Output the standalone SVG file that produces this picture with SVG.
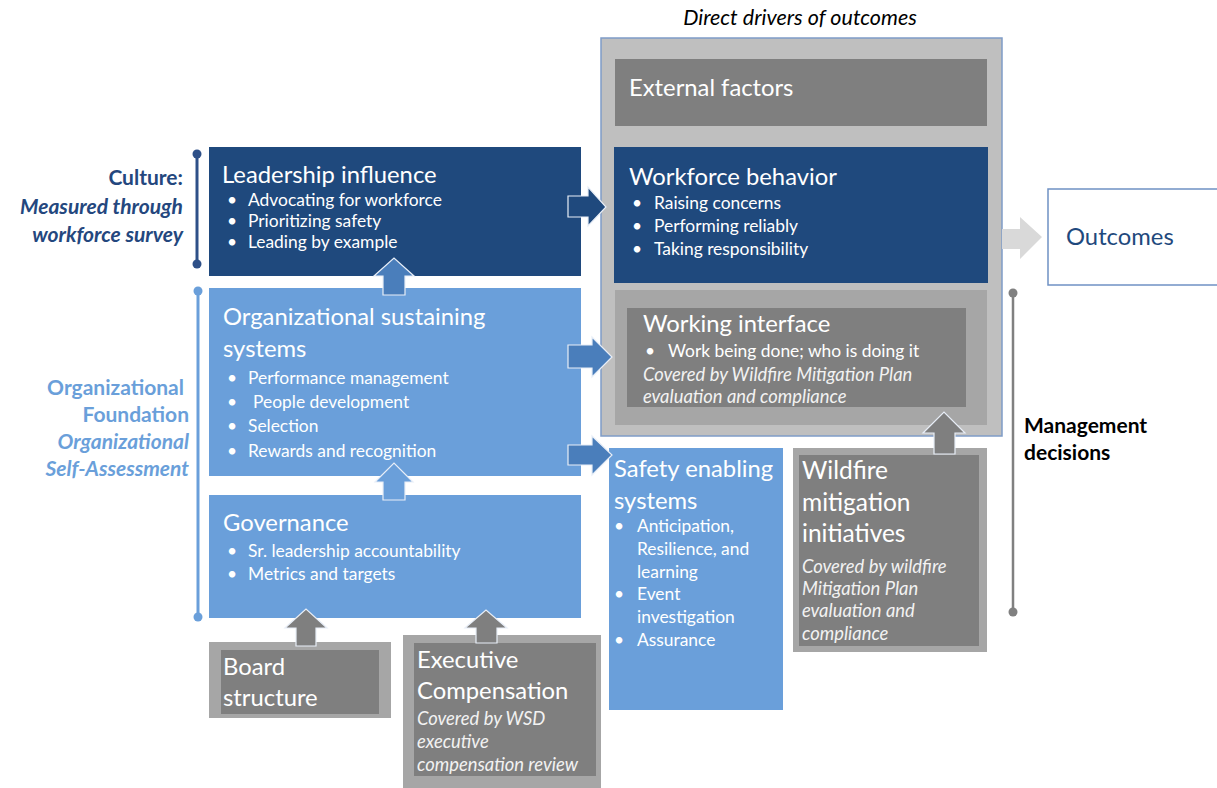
<svg xmlns="http://www.w3.org/2000/svg" width="1217" height="788" viewBox="0 0 1217 788">
<style>
text{font-family:Lato,"Liberation Sans",sans-serif;}
.t{font-size:23.8px;fill:#ffffff;}
.b{font-size:17.4px;fill:#ffffff;}
.i{font-size:18.4px;fill:#f2f2f2;font-style:italic;}
.navy{fill:#1f497d;}
.lb{fill:#6a9fda;}
.g1{fill:#7f7f7f;}
.g2{fill:#a6a6a6;}
.lbl{font-size:21px;font-weight:bold;}
</style>
<rect width="1217" height="788" fill="#ffffff"/>
<text x="800" y="25" text-anchor="middle" style="font-size:21.5px;font-style:italic;fill:#000">Direct drivers of outcomes</text>

<g id="culture-label">
<text x="183" y="185" text-anchor="end" class="lbl" fill="#24477e">Culture:</text>
<text x="183" y="214" text-anchor="end" class="lbl" fill="#24477e" font-style="italic">Measured through</text>
<text x="183" y="242" text-anchor="end" class="lbl" fill="#24477e" font-style="italic">workforce survey</text>
<line x1="197" y1="154" x2="197" y2="264" stroke="#2e5088" stroke-width="3"/>
<circle cx="197" cy="154" r="4.5" fill="#2e5088"/>
<circle cx="197" cy="264" r="4.5" fill="#2e5088"/>
</g>

<g id="foundation-label">
<text x="184" y="395" text-anchor="end" class="lbl" fill="#6a9fda">Organizational</text>
<text x="189" y="422" text-anchor="end" class="lbl" fill="#6a9fda">Foundation</text>
<text x="189" y="449" text-anchor="end" class="lbl" fill="#6a9fda" font-style="italic">Organizational</text>
<text x="189" y="476" text-anchor="end" class="lbl" fill="#6a9fda" font-style="italic">Self-Assessment</text>
<line x1="198" y1="291" x2="198" y2="617" stroke="#6a9fda" stroke-width="3"/>
<circle cx="198" cy="291" r="4.5" fill="#6a9fda"/>
<circle cx="198" cy="617" r="4.5" fill="#6a9fda"/>
</g>

<g id="management-label">
<text x="1024" y="433" class="lbl" fill="#000">Management</text>
<text x="1024" y="460" class="lbl" fill="#000">decisions</text>
<line x1="1013" y1="293" x2="1013" y2="612" stroke="#808080" stroke-width="2.5"/>
<circle cx="1013" cy="293" r="4.5" fill="#808080"/>
<circle cx="1013" cy="612" r="4.5" fill="#808080"/>
</g>

<g id="direct-drivers">
<rect x="601" y="38" width="401" height="398" fill="#bfbfbf" stroke="#7f9cc7" stroke-width="1.5"/>
</g>

<g id="external-factors">
<rect x="615" y="59" width="372" height="67" class="g1"/>
<text x="629" y="96" class="t" fill="#f2f2f2">External factors</text>
</g>

<g id="workforce-behavior">
<rect x="614" y="147" width="374" height="136" class="navy"/>
<text x="629" y="185" class="t">Workforce behavior</text>
<text x="632" y="209" class="b">•</text><text x="654" y="209" class="b">Raising concerns</text>
<text x="632" y="232" class="b">•</text><text x="654" y="232" class="b">Performing reliably</text>
<text x="632" y="255" class="b">•</text><text x="654" y="255" class="b">Taking responsibility</text>
</g>

<g id="working-interface">
<rect x="615" y="290" width="372" height="135" class="g2"/>
<rect x="627" y="308" width="339" height="99" class="g1"/>
<text x="643" y="332" class="t" fill="#f2f2f2">Working interface</text>
<text x="645" y="357" class="b">•</text><text x="668" y="357" class="b">Work being done; who is doing it</text>
<text x="643" y="381" class="i">Covered by Wildfire Mitigation Plan</text>
<text x="643" y="403" class="i">evaluation and compliance</text>
</g>

<g id="outcomes">
<rect x="1048" y="189" width="175" height="96" fill="#ffffff" stroke="#6f91c4" stroke-width="1.5"/>
<text x="1066" y="245" style="font-size:23.8px;fill:#1f497d">Outcomes</text>
</g>

<g id="leadership-influence">
<rect x="209" y="147" width="372" height="129" class="navy"/>
<text x="222" y="183" class="t">Leadership influence</text>
<text x="227" y="206" class="b">•</text><text x="248" y="206" class="b">Advocating for workforce</text>
<text x="227" y="227" class="b">•</text><text x="248" y="227" class="b">Prioritizing safety</text>
<text x="227" y="248" class="b">•</text><text x="248" y="248" class="b">Leading by example</text>
</g>

<g id="org-sustaining">
<rect x="209" y="288" width="372" height="188" class="lb"/>
<text x="223" y="325" class="t">Organizational sustaining</text>
<text x="223" y="357" class="t">systems</text>
<text x="227" y="384" class="b">•</text><text x="248" y="384" class="b">Performance management</text>
<text x="227" y="408" class="b">•</text><text x="253" y="408" class="b">People development</text>
<text x="227" y="432" class="b">•</text><text x="248" y="432" class="b">Selection</text>
<text x="227" y="457" class="b">•</text><text x="248" y="457" class="b">Rewards and recognition</text>
</g>

<g id="governance">
<rect x="209" y="495" width="372" height="123" class="lb"/>
<text x="223" y="531" class="t">Governance</text>
<text x="227" y="557" class="b">•</text><text x="248" y="557" class="b">Sr. leadership accountability</text>
<text x="227" y="580" class="b">•</text><text x="248" y="580" class="b">Metrics and targets</text>
</g>

<g id="safety-enabling">
<rect x="609" y="448" width="174" height="262" class="lb"/>
<text x="614" y="477" class="t">Safety enabling</text>
<text x="614" y="509" class="t">systems</text>
<text x="614" y="532" class="b">•</text><text x="637" y="532" class="b">Anticipation,</text>
<text x="637" y="555" class="b">Resilience, and</text>
<text x="637" y="578" class="b">learning</text>
<text x="614" y="600" class="b">•</text><text x="637" y="600" class="b">Event</text>
<text x="637" y="623" class="b">investigation</text>
<text x="614" y="646" class="b">•</text><text x="637" y="646" class="b">Assurance</text>
</g>

<g id="wildfire-initiatives">
<rect x="793" y="448" width="194" height="204" class="g2"/>
<rect x="799" y="455" width="180" height="191" class="g1"/>
<text x="802" y="479" class="t" fill="#f2f2f2" style="font-size:24.5px">Wildfire</text>
<text x="802" y="511" class="t" fill="#f2f2f2" style="font-size:24.5px">mitigation</text>
<text x="802" y="542" class="t" fill="#f2f2f2" style="font-size:24.5px">initiatives</text>
<text x="802" y="573" class="i">Covered by wildfire</text>
<text x="802" y="595" class="i">Mitigation Plan</text>
<text x="802" y="617" class="i">evaluation and</text>
<text x="802" y="640" class="i">compliance</text>
</g>

<g id="board-structure">
<rect x="209" y="642" width="182" height="76" class="g2"/>
<rect x="221" y="650" width="158" height="64" class="g1"/>
<text x="223" y="675" class="t" fill="#f2f2f2">Board</text>
<text x="223" y="706" class="t" fill="#f2f2f2">structure</text>
</g>

<g id="executive-compensation">
<rect x="403" y="635" width="198" height="160" class="g2"/>
<rect x="414" y="643" width="182" height="133" class="g1"/>
<text x="417" y="668" class="t" fill="#f2f2f2">Executive</text>
<text x="417" y="699" class="t" fill="#f2f2f2">Compensation</text>
<text x="417" y="725" class="i">Covered by WSD</text>
<text x="417" y="748" class="i">executive</text>
<text x="417" y="771" class="i">compensation review</text>
</g>

<g id="connectors" stroke="#e8eef7" stroke-width="1.2" stroke-linejoin="miter">
<polygon points="568,196 588,196 588,187 606,207 588,226 588,217 568,217" fill="#1f497d"/>
<polygon points="568,345 592,345 592,337 612,357 592,377 592,368 568,368" fill="#4a7ebb"/>
<polygon points="568,445 592,445 592,436 612,455 592,475 592,465 568,465" fill="#4a7ebb"/>
<polygon points="383,295 383,276 374,276 394,258 414,276 405,276 405,295" fill="#4a7ebb"/>
<polygon points="383,500 383,482 375,482 394,463 413,482 405,482 405,500" fill="#6a9fda"/>
<polygon points="296,646 296,628 285,628 306,609 327,628 316,628 316,646" fill="#7f7f7f"/>
<polygon points="476,643 476,628 465,628 486,610 507,628 497,628 497,643" fill="#7f7f7f"/>
<polygon points="934,454 934,433 923,433 944,412 965,433 955,433 955,454" fill="#7f7f7f"/>
<polygon points="1002,229 1020,229 1020,217 1042,237 1020,259 1020,249 1002,249" fill="#d9d9d9" stroke="none"/>
</g>
</svg>
